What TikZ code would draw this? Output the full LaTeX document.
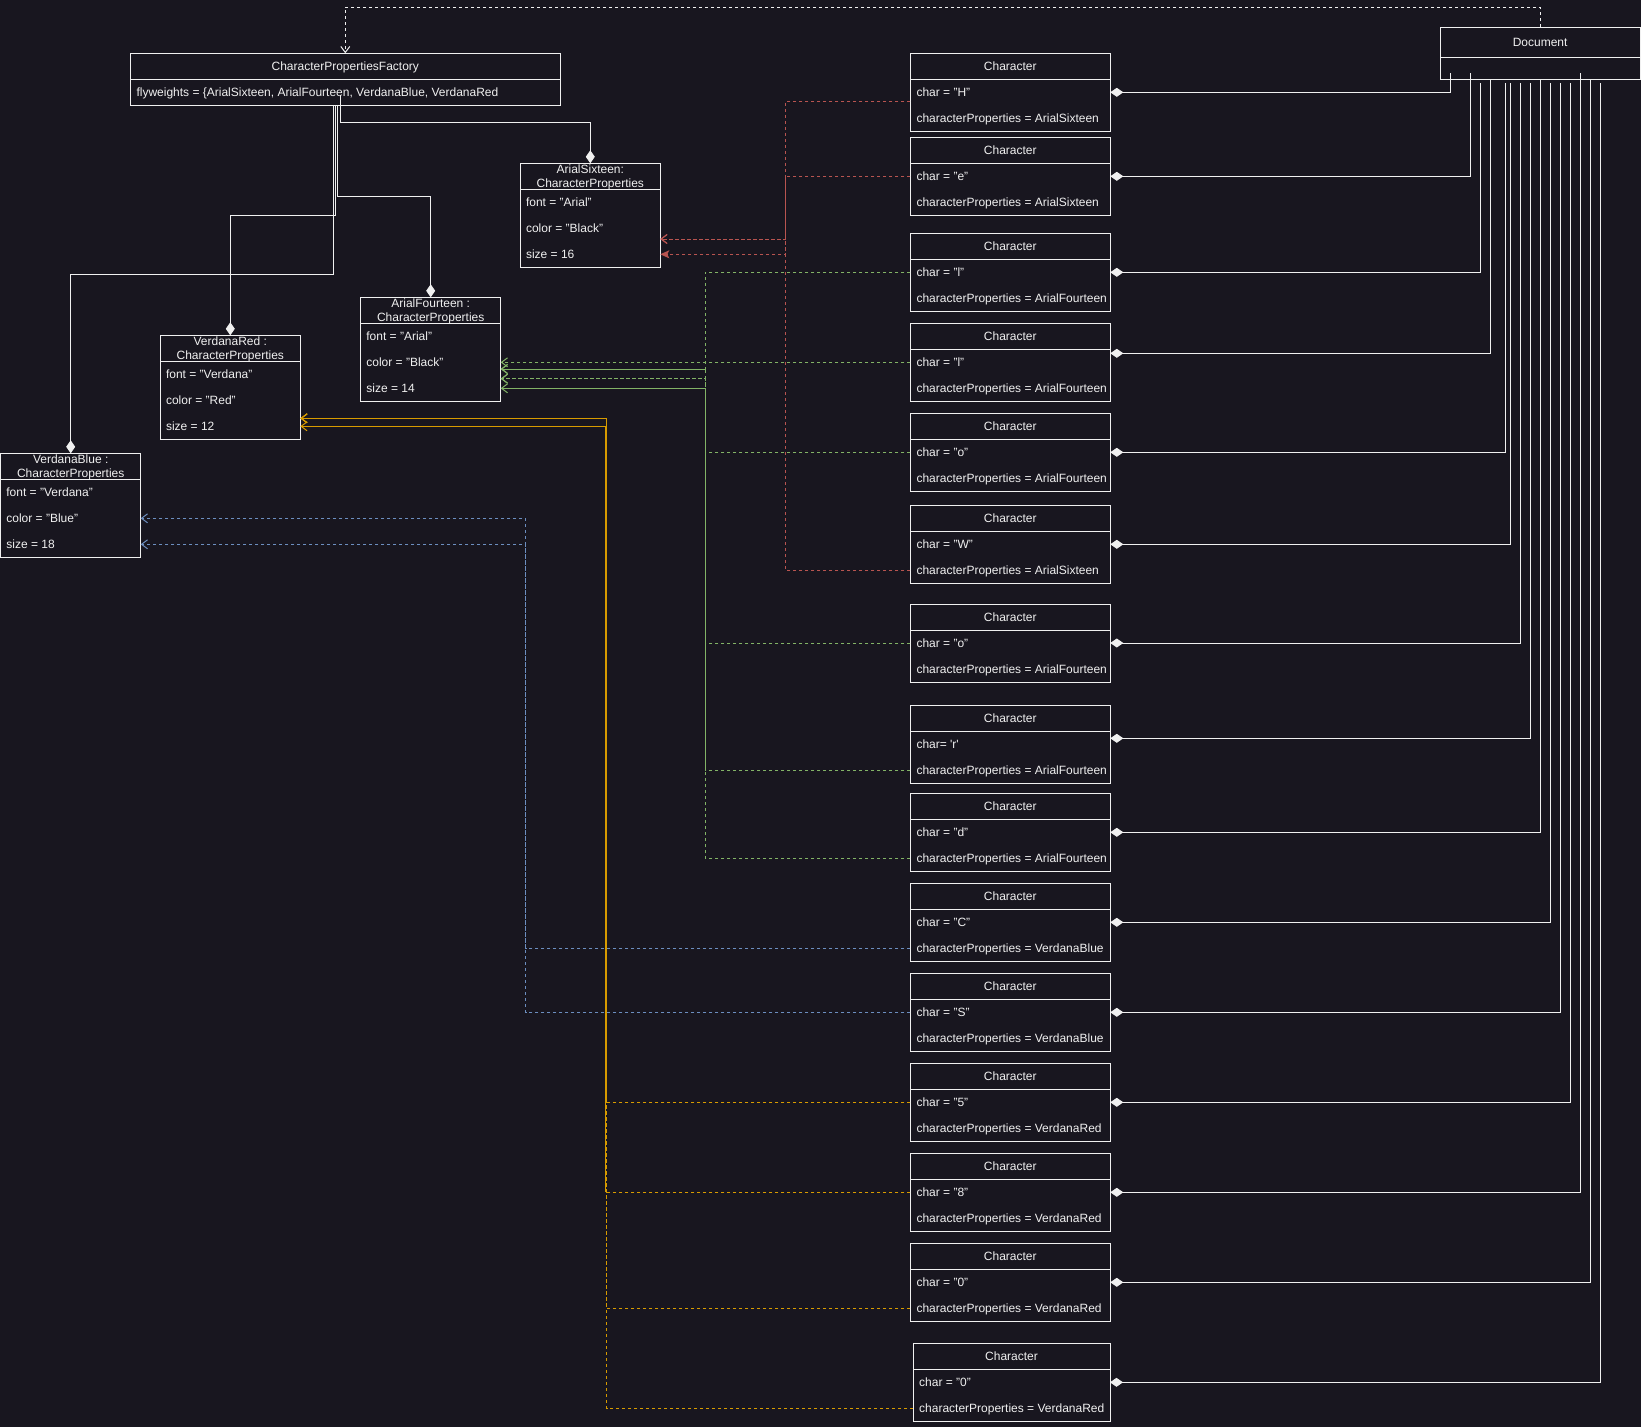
\documentclass[tikz,border=0pt]{standalone}
\usepackage{fontspec}
\setmainfont{Liberation Sans}
\usetikzlibrary{arrows.meta}

\definecolor{bgc}{HTML}{18161F}
\definecolor{ink}{HTML}{F0F0F0}
\definecolor{redl}{HTML}{B85450}
\definecolor{greenl}{HTML}{82B366}
\definecolor{bluel}{HTML}{6C8EBF}
\definecolor{orangel}{HTML}{D79B00}

\tikzset{
  umlbox/.style={draw=ink, line width=1pt, rectangle, inner sep=0pt, outer sep=0pt, anchor=north west},
  txt/.style={text=ink, inner sep=0pt, font=\fontsize{12pt}{14pt}\selectfont, text height=8.6pt, text depth=0pt},
  attr/.style={txt, anchor=west},
  wline/.style={draw=ink, line width=1pt},
  comp/.style={wline, -{Diamond[length=13pt,width=9pt]}},
  dep/.style={line width=1pt, dash pattern=on 3pt off 3pt, -{Straight Barb[length=6pt,width=9pt]}},
  depfill/.style={line width=1pt, dash pattern=on 3pt off 3pt, -{Stealth[length=9pt,width=8pt,inset=2pt]}},
  dashonly/.style={line width=1pt, dash pattern=on 3pt off 3pt},
  solidopen/.style={line width=1pt, -{Straight Barb[length=6pt,width=9pt]}},
}

% Character object: name, left x, top y, width, char line, properties line
\newcommand{\charbox}[6]{%
  \node[umlbox, minimum width=#4pt, minimum height=78pt] (#1) at (#2,#3) {};
  \draw[wline] ([yshift=-26pt]#1.north west) -- ([yshift=-26pt]#1.north east);
  \node[txt] (#1-t) at ([yshift=-13pt]#1.north) {Character};
  \node[attr] (#1-c) at ([xshift=6pt,yshift=-39pt]#1.north west) {#5};
  \node[attr] (#1-p) at ([xshift=6pt,yshift=-65pt]#1.north west) {#6};
}

% CharacterProperties object: name, left x, top y, first title line, font, color, size
\newcommand{\propbox}[7]{%
  \node[umlbox, minimum width=140pt, minimum height=104pt] (#1) at (#2,#3) {};
  \draw[wline] ([yshift=-26pt]#1.north west) -- ([yshift=-26pt]#1.north east);
  \node[txt] (#1-t1) at ([yshift=-6pt]#1.north) {#4};
  \node[txt] (#1-t2) at ([yshift=-20pt]#1.north) {CharacterProperties};
  \node[attr] (#1-f) at ([xshift=5.5pt,yshift=-39pt]#1.north west) {#5};
  \node[attr] (#1-c) at ([xshift=5.5pt,yshift=-65pt]#1.north west) {#6};
  \node[attr] (#1-s) at ([xshift=5.5pt,yshift=-91pt]#1.north west) {#7};
}

\begin{document}
\begin{tikzpicture}[x=1pt, y=-1pt]
  \fill[bgc] (0,0) rectangle (1641,1427);
  \useasboundingbox (0,0) rectangle (1641,1427);

  % factory
  \node[umlbox, minimum width=430pt, minimum height=52pt] (fac) at (130.3,53.3) {};
  \draw[wline] ([yshift=-26pt]fac.north west) -- ([yshift=-26pt]fac.north east);
  \node[txt] (fac-t) at ([yshift=-13pt]fac.north) {CharacterPropertiesFactory};
  \node[attr] (fac-f) at ([xshift=6pt,yshift=-39pt]fac.north west) {flyweights = \{ArialSixteen, ArialFourteen, VerdanaBlue, VerdanaRed};

  % document
  \node[umlbox, minimum width=199.7pt, minimum height=52pt] (doc) at (1440.3,27.3) {};
  \draw[wline] ([yshift=-30pt]doc.north west) -- ([yshift=-30pt]doc.north east);
  \node[txt] (doc-t) at ([yshift=-15pt]doc.north) {Document};

  % shared property objects
  \propbox{as}{520.3}{163.3}{ArialSixteen:}{font = "Arial"}{color = "Black"}{size = 16}
  \propbox{af}{360.7}{297.3}{ArialFourteen :}{font = "Arial"}{color = "Black"}{size = 14}
  \propbox{vr}{160.3}{335.3}{VerdanaRed :}{font = "Verdana"}{color = "Red"}{size = 12}
  \propbox{vb}{0.7}{453.3}{VerdanaBlue :}{font = "Verdana"}{color = "Blue"}{size = 18}

  % characters
  \charbox{c1}{910.3}{53.3}{200}{char = "H"}{characterProperties = ArialSixteen}
  \charbox{c2}{910.3}{137.3}{200}{char = "e"}{characterProperties = ArialSixteen}
  \charbox{c3}{910.3}{233.3}{200}{char = "l"}{characterProperties = ArialFourteen}
  \charbox{c4}{910.3}{323.3}{200}{char = "l"}{characterProperties = ArialFourteen}
  \charbox{c5}{910.3}{413.3}{200}{char = "o"}{characterProperties = ArialFourteen}
  \charbox{c6}{910.3}{505.3}{200}{char = "W"}{characterProperties = ArialSixteen}
  \charbox{c7}{910.3}{604}{200}{char = "o"}{characterProperties = ArialFourteen}
  \charbox{c8}{910.3}{705.3}{200}{char= \textquotesingle r\textquotesingle}{characterProperties = ArialFourteen}
  \charbox{c9}{910.3}{793.3}{200}{char = "d"}{characterProperties = ArialFourteen}
  \charbox{c10}{910.3}{883.3}{200}{char = "C"}{characterProperties = VerdanaBlue}
  \charbox{c11}{910.3}{973.3}{200}{char = "S"}{characterProperties = VerdanaBlue}
  \charbox{c12}{910.3}{1063.3}{200}{char = "5"}{characterProperties = VerdanaRed}
  \charbox{c13}{910.3}{1153.3}{200}{char = "8"}{characterProperties = VerdanaRed}
  \charbox{c14}{910.3}{1243.3}{200}{char = "0"}{characterProperties = VerdanaRed}
  \charbox{c15}{913}{1343.3}{197}{char = "0"}{characterProperties = VerdanaRed}

  % document uses the factory
  \draw[dep, draw=ink] (doc.north) -- ++(0,-20) -| (fac.north);

  % factory holds the property objects
  \draw[comp] ([xshift=210pt,yshift=10.3pt]fac.south west) -- ++(0,27.3) -| (as.north);
  \draw[comp] ([xshift=206.7pt]fac.south west) -- ++(0,90.7) -| (af.north);
  \draw[comp] ([xshift=205.2pt]fac.south west) -- ++(0,110) -| (vr.north);
  \draw[comp] ([xshift=203pt]fac.south west) -- ++(0,169) -| (vb.north);

  % document holds the characters
  \foreach \b/\dx/\dy/\ry in {c1/10/6/39, c2/30/6/39, c3/40/-4/39, c4/50/0/30,
      c5/65/-4/39, c6/70/-4/39, c7/80/-4/39, c8/90/-4/33, c9/100/0/39,
      c10/110/-4/39, c11/120/-4/39, c12/130/-4/39, c13/140/6/39,
      c14/150/0/39, c15/160/-4/39}
    \draw[comp] ([xshift=\dx pt, yshift=\dy pt]doc.south west) |- ([yshift=-\ry pt]\b.north east);

  % ArialSixteen references
  \draw[depfill, draw=redl] ([yshift=-48pt]c1.north west) -- (785.5,101.3) -- (785.5,254.3) -- ([yshift=-91pt]as.north east);
  \draw[dep, draw=redl] ([yshift=-39pt]c2.north west) -- (785.5,176.3) -- (785.5,239) -- ([yshift=-75.7pt]as.north east);
  \draw[dep, draw=redl] ([yshift=-65pt]c6.north west) -- (785.5,570.3) -- (785.5,239) -- ([yshift=-75.7pt]as.north east);

  % ArialFourteen references
  \draw[dep, draw=greenl] ([yshift=-39pt]c4.north west) -- ([yshift=-65pt]af.north east);
  \draw[dep, draw=greenl] ([yshift=-39pt]c3.north west) -- (705.3,272.3) -- (705.3,369) -- ([yshift=-71.7pt]af.north east);
  \draw[dep, draw=greenl] ([yshift=-39pt]c5.north west) -- (705.3,452.3) -- (705.3,378.7) -- ([yshift=-81.4pt]af.north east);
  \draw[dep, draw=greenl] ([yshift=-39pt]c7.north west) -- (705.3,643) -- (705.3,378.7) -- ([yshift=-81.4pt]af.north east);
  \draw[dashonly, draw=greenl] ([yshift=-65pt]c8.north west) -- (705.3,770.3) coordinate (g8);
  \draw[solidopen, draw=greenl] (g8) -- (705.3,388.3) -- ([yshift=-91pt]af.north east);
  \draw[dep, draw=greenl] ([yshift=-65pt]c9.north west) -- (705.3,858.3) -- (705.3,369) -- ([yshift=-71.7pt]af.north east);

  % VerdanaBlue references
  \draw[dep, draw=bluel] ([yshift=-65pt]c10.north west) -- (525.7,948.3) -- (525.7,544.3) -- ([yshift=-91pt]vb.north east);
  \draw[dep, draw=bluel] ([yshift=-39pt]c11.north west) -- (525.7,1012.3) -- (525.7,518.3) -- ([yshift=-65pt]vb.north east);

  % VerdanaRed references
  \draw[dep, draw=orangel] ([yshift=-39pt]c12.north west) -- (606.5,1102.3) -- (606.5,418.3) -- ([yshift=-83pt]vr.north east);
  \draw[dashonly, draw=orangel] ([yshift=-39pt]c13.north west) -- (605.5,1192.3) coordinate (o8);
  \draw[solidopen, draw=orangel] (o8) -- (605.5,426.3) -- ([yshift=-91pt]vr.north east);
  \draw[dep, draw=orangel] ([yshift=-65pt]c14.north west) -- (606.5,1308.3) -- (606.5,418.3) -- ([yshift=-83pt]vr.north east);
  \draw[dep, draw=orangel] ([yshift=-65pt]c15.north west) -- (606.5,1408.3) -- (606.5,418.3) -- ([yshift=-83pt]vr.north east);
\end{tikzpicture}
\end{document}
